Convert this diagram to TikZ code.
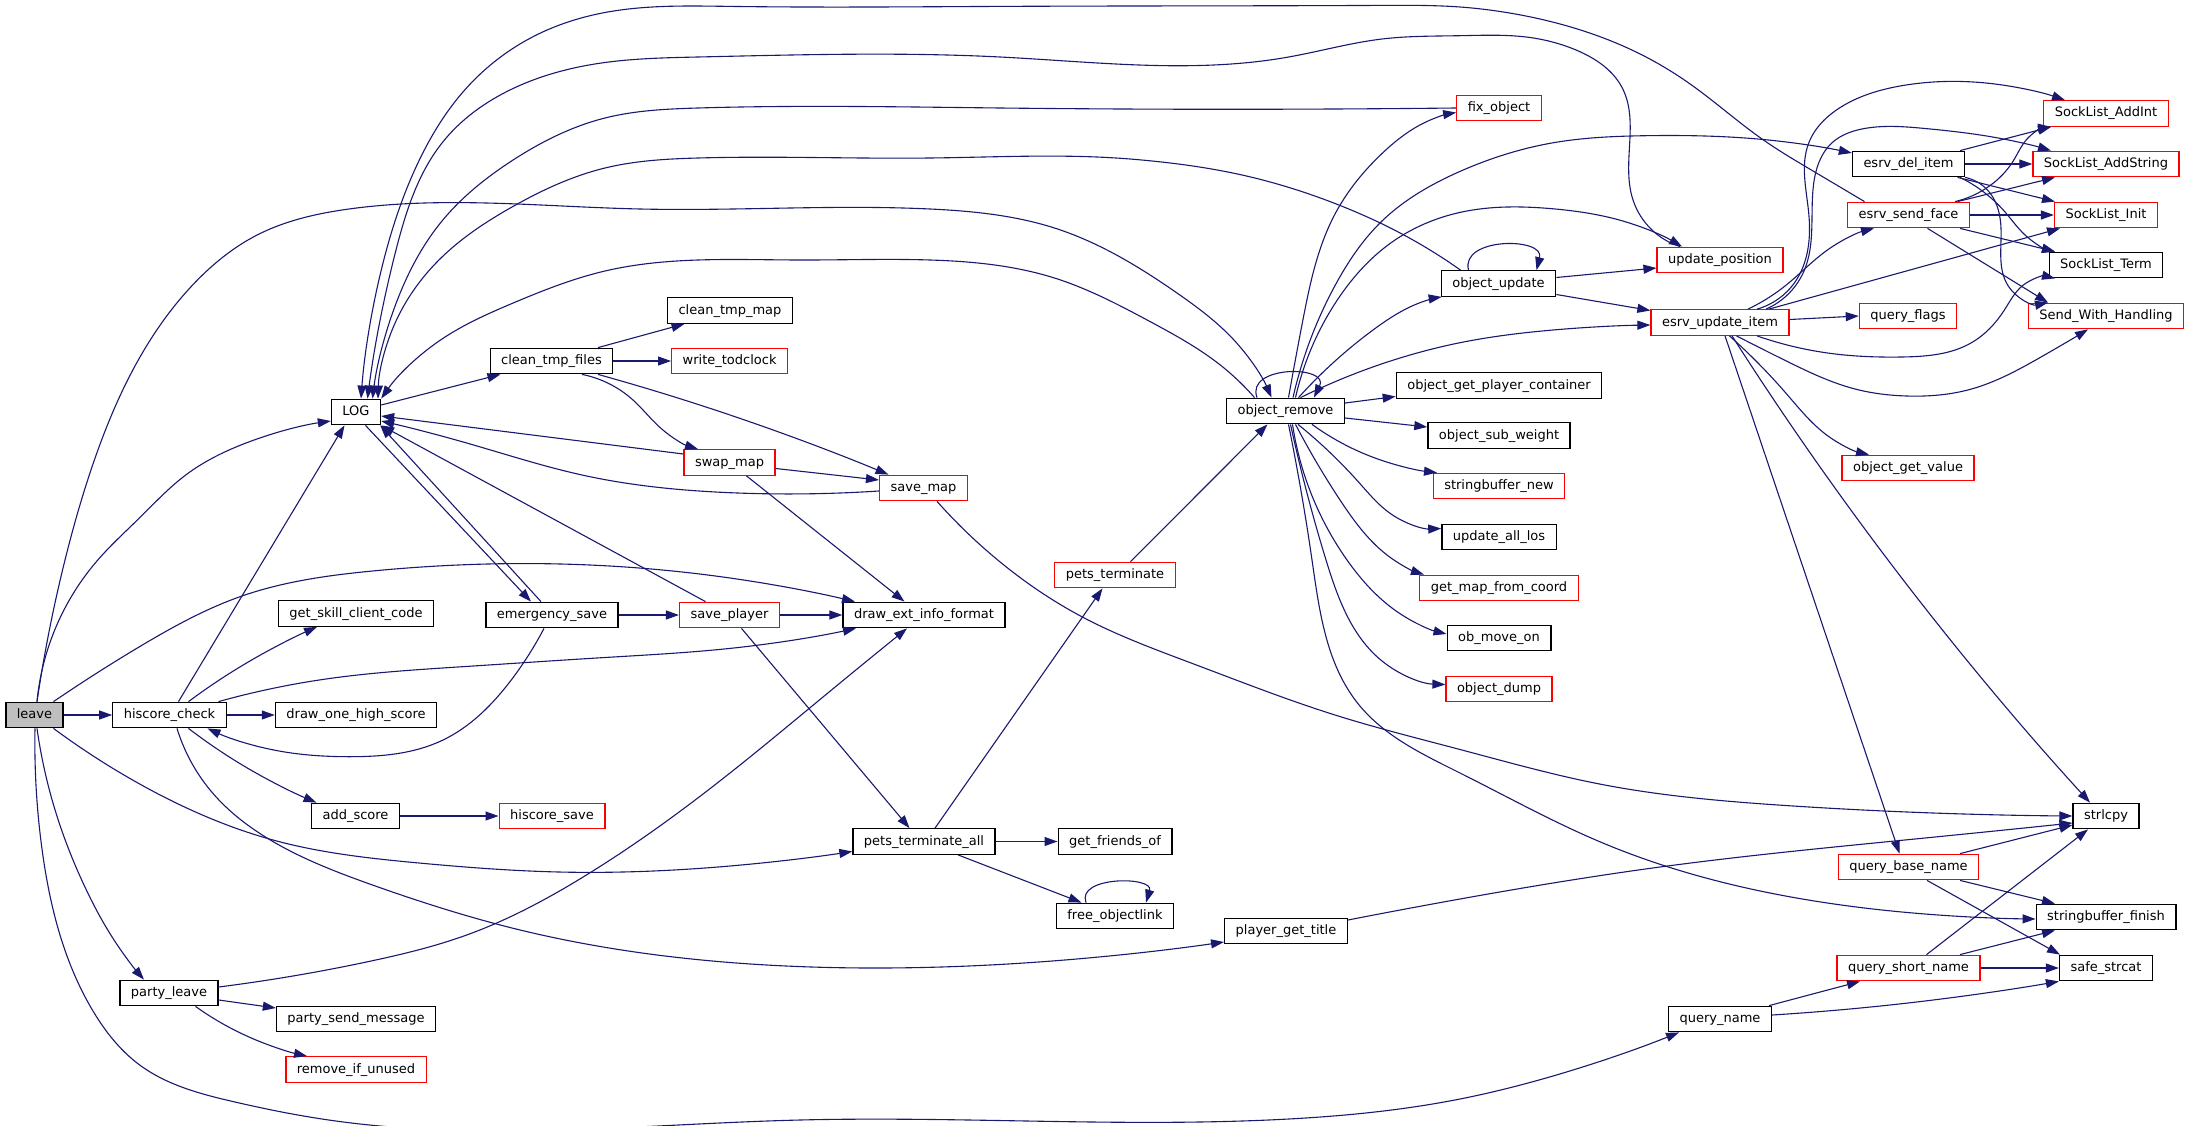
\documentclass[tikz,border=0pt]{standalone}
\usepackage{fontspec}
\newfontfamily\fnt{DejaVu Sans}
\usetikzlibrary{arrows.meta,hobby}
\definecolor{edgec}{HTML}{191970}
\definecolor{grayf}{HTML}{BFBFBF}
\tikzset{
  fn/.style={draw=black, fill=white, line width=1.3pt, rectangle, minimum height=25.5pt,
    inner xsep=11pt, inner ysep=0pt, font=\fnt\fontsize{13pt}{15pt}\selectfont,
    text height=9.6pt, text depth=2.6pt},
  fnr/.style={fn, draw=red},
  conn/.style={draw=edgec, line width=1.1pt, -{Triangle[length=13pt,width=9pt]}},
}
\begin{document}
\begin{tikzpicture}[x=1pt,y=-1pt]
\useasboundingbox (0,0) rectangle (2189,1126);
\fill[white] (0,0) rectangle (2189,1126);
% nodes
\node[fn,fill=grayf] (leave) at (34.5,715) {leave};
\node[fn] (hc) at (169.5,715) {hiscore\_check};
\node[fn] (pl) at (169,993) {party\_leave};
\node[fn] (LOG) at (356,412) {LOG};
\node[fn] (gscc) at (356,613.5) {get\_skill\_client\_code};
\node[fn] (dohs) at (356,715) {draw\_one\_high\_score};
\node[fn] (as) at (355.5,816) {add\_score};
\node[fn] (psm) at (356,1019) {party\_send\_message};
\node[fnr] (riu) at (356,1069.5) {remove\_if\_unused};
\node[fn] (ctf) at (551.5,361) {clean\_tmp\_files};
\node[fn] (es) at (552,615) {emergency\_save};
\node[fnr] (hs) at (552,816) {hiscore\_save};
\node[fn] (ctm) at (730,310.5) {clean\_tmp\_map};
\node[fnr] (wtc) at (729.6,361) {write\_todclock};
\node[fnr] (swm) at (729.5,462.5) {swap\_map};
\node[fnr] (sp) at (729.5,615) {save\_player};
\node[fnr] (smap) at (923.5,488) {save\_map};
\node[fn] (deif) at (924,615) {draw\_ext\_info\_format};
\node[fn] (pta) at (924,841.5) {pets\_terminate\_all};
\node[fnr] (pt) at (1115,575) {pets\_terminate};
\node[fn] (gfo) at (1115,841.5) {get\_friends\_of};
\node[fn] (fol) at (1115,916) {free\_objectlink};
\node[fn] (orm) at (1285.5,411) {object\_remove};
\node[fn] (pgt) at (1286,931) {player\_get\_title};
\node[fnr] (fo) at (1499,108) {fix\_object};
\node[fn] (ou) at (1498.5,283.5) {object\_update};
\node[fn] (ogpc) at (1499,385.5) {object\_get\_player\_container};
\node[fn] (osw) at (1499,435.5) {object\_sub\_weight};
\node[fnr] (sbn) at (1499,486) {stringbuffer\_new};
\node[fn] (ual) at (1499,537) {update\_all\_los};
\node[fnr] (gmfc) at (1499,588) {get\_map\_from\_coord};
\node[fn] (omo) at (1499,638) {ob\_move\_on};
\node[fnr] (od) at (1499,689) {object\_dump};
\node[fnr] (up) at (1720,260) {update\_position};
\node[fnr] (eui) at (1720,322.5) {esrv\_update\_item};
\node[fn] (qn) at (1720,1019) {query\_name};
\node[fn] (edi) at (1908.5,164) {esrv\_del\_item};
\node[fnr] (esf) at (1908.5,215) {esrv\_send\_face};
\node[fnr] (qf) at (1908,316) {query\_flags};
\node[fnr] (ogv) at (1908,468) {object\_get\_value};
\node[fnr] (qbn) at (1908.5,867) {query\_base\_name};
\node[fnr] (qsn) at (1908.5,968) {query\_short\_name};
\node[fnr] (sai) at (2106,113.5) {SockList\_AddInt};
\node[fnr] (sas) at (2106,164) {SockList\_AddString};
\node[fnr] (sli) at (2106,215) {SockList\_Init};
\node[fn] (slt) at (2106,265) {SockList\_Term};
\node[fnr] (swh) at (2106,316) {Send\_With\_Handling};
\node[fn] (strl) at (2106,816) {strlcpy};
\node[fn] (sbf) at (2106,917) {stringbuffer\_finish};
\node[fn] (sst) at (2106,968) {safe\_strcat};
% leave
\draw[conn] (leave.east) -- (hc.west);
\draw[conn] ([xshift=2.5pt]leave.north) to[curve through={(97.8,560) .. (139.7,517.7) .. (186,474.8) .. (246.8,442.7)}] ([yshift=-9pt]LOG.west);
\draw[conn] ([xshift=2.5pt]leave.north) to[curve through={(65,560) .. (93,464) .. (140,357) .. (195.5,282) .. (256,235.6) .. (349,209) .. (640,209) .. (930,209) .. (1056,228.5) .. (1177,293) .. (1233,339)}] ([xshift=-14pt]orm.north);
\draw[conn] ([xshift=19pt]leave.north) to[curve through={(139.7,646.6) .. (242,596) .. (372.5,571) .. (535,563.6) .. (730,578)}] ([xshift=-69pt]deif.north);
\draw[conn] ([xshift=19pt]leave.south) to[curve through={(139.7,784) .. (279,841.6) .. (419,863) .. (558.7,872) .. (730,866)}] ([yshift=-10pt]pta.west);
\draw[conn] ([xshift=2.5pt]leave.south) to[curve through={(56,813) .. (84,885) .. (116,943)}] ([xshift=-25pt]pl.north);
\draw[conn] ([xshift=0.5pt]leave.south) to[curve through={(42,849) .. (56,921) .. (93,1011) .. (139.7,1065) .. (232.8,1101.5) .. (326,1119.6) .. (800,1120) .. (1288.7,1119) .. (1460,1099) .. (1553,1076)}] ([xshift=-41pt]qn.south);
% hiscore_check
\draw[conn] ([xshift=9pt]hc.north) -- ([xshift=-11.5pt]LOG.south);
\draw[conn] ([xshift=19pt]hc.north) to[curve through={(256,657.5)}] ([xshift=-39pt]gscc.south);
\draw[conn] (hc.east) -- (dohs.west);
\draw[conn] ([xshift=19pt]hc.south) to[curve through={(256,773)}] ([xshift=-39pt]as.north);
\draw[conn] ([xshift=49pt]hc.north) to[curve through={(326,679) .. (465.6,666.5) .. (605,657.5) .. (730,648.4)}] ([xshift=-68pt]deif.south);
\draw[conn] ([xshift=7.5pt]hc.south) to[curve through={(214,794.6) .. (260.7,834) .. (372.5,885) .. (512,928) .. (730,962.5) .. (869.7,968) .. (1056,960.7)}] ([yshift=-11pt]pgt.west);
% emergency_save
\draw[conn] ([xshift=-8pt]es.south) to[curve through={(512,679) .. (442,740.5) .. (349,756.7) .. (279,751)}] ([xshift=38pt]hc.south);
\draw[conn] ([xshift=-11pt]es.north) -- ([xshift=-1pt]LOG.south east);
\draw[conn] (es.east) -- (sp.west);
% LOG
\draw[conn] ([yshift=7pt]LOG.east) -- ([xshift=-51pt]ctf.south);
\draw[conn] ([xshift=9.5pt]LOG.south) -- ([xshift=-21pt]es.north);
% clean_tmp_files
\draw[conn] ([xshift=46.5pt]ctf.north) -- ([xshift=-45.5pt]ctm.south);
\draw[conn] (ctf.east) -- (wtc.west);
\draw[conn] ([xshift=30.5pt]ctf.south) to[curve through={(633,400) .. (661,428.4)}] ([xshift=-31.5pt]swm.north);
\draw[conn] ([xshift=46.5pt]ctf.south) to[curve through={(730,415)}] ([xshift=-35pt]smap.north);
% swap_map
\draw[conn] ([yshift=8.5pt]swm.west) -- ([yshift=-4pt]LOG.east);
\draw[conn] ([yshift=-6pt]swm.east) -- ([yshift=8pt]smap.west);
\draw[conn] ([xshift=17pt]swm.south) -- ([xshift=-19.5pt]deif.north);
% save_map
\draw[conn] ([yshift=-3pt]smap.west) to[curve through={(730,492.7) .. (582,475) .. (465.6,442.7)}] ([yshift=-9pt]LOG.east);
\draw[conn] ([xshift=13.5pt]smap.south) to[curve through={(997.7,560) .. (1083.9,617.8) .. (1195.6,664.7) .. (1335,715) .. (1460,749.5) .. (1599.5,784) .. (1785.5,805.5) .. (1925,812.7)}] (strl.west);
% save_player
\draw[conn] ([xshift=-24pt]sp.north) -- (LOG.south east);
\draw[conn] (sp.east) -- (deif.west);
\draw[conn] ([xshift=12pt]sp.south) -- ([xshift=-14.5pt]pta.north);
% add_score
\draw[conn] (as.east) -- (hs.west);
% party_leave
\draw[conn] ([yshift=6pt]pl.east) to[curve through={(372.5,960.7) .. (465.6,935.4) .. (582,877.7) .. (730,773) .. (823,697)}] ([xshift=-17pt]deif.south);
\draw[conn] ([yshift=-7pt]pl.east) -- ([yshift=11pt]psm.west);
\draw[conn] ([xshift=26.5pt]pl.south) to[curve through={(256,1040)}] ([xshift=-49pt]riu.north);
% pets
\draw[conn] ([xshift=11pt]pta.north) -- ([xshift=-12.5pt]pt.south);
\draw[conn] (pta.east) -- (gfo.west);
\draw[conn] ([xshift=34pt]pta.south) -- ([xshift=-33.5pt]fol.north);
\draw[conn] ([xshift=-29pt]fol.north) .. controls (1076,876) and (1154,876) .. ([xshift=31pt]fol.north);
\draw[conn] ([xshift=15.5pt]pt.north) -- ([xshift=-18pt]orm.south);
% player_get_title
\draw[conn] ([yshift=11pt]pgt.east) to[curve through={(1460,899) .. (1660,867) .. (1925,838)}] ([yshift=-7pt]strl.west);
% query_name
\draw[conn] ([xshift=49pt]qn.north) -- ([xshift=-48.5pt]qsn.south);
\draw[conn] ([yshift=4pt]qn.east) to[curve through={(1925,1001)}] (sst.south west);
% query_short_name
\draw[conn] ([xshift=18pt]qsn.north) -- ([xshift=-18pt]strl.south);
\draw[conn] ([xshift=51.5pt]qsn.north) -- ([xshift=-51pt]sbf.south);
\draw[conn] (qsn.east) -- (sst.west);
% query_base_name
\draw[conn] ([xshift=51.5pt]qbn.north) -- ([yshift=-9pt]strl.west);
\draw[conn] ([xshift=51.5pt]qbn.south) -- ([xshift=-51pt]sbf.north);
\draw[conn] ([xshift=18.5pt]qbn.south) -- ([xshift=-46pt]sst.north);
% object_remove
\draw[conn] ([xshift=-28.5pt]orm.north) .. controls (1245,365) and (1330,365) .. ([xshift=28.5pt]orm.north);
\draw[conn] ([xshift=-31pt]orm.north) to[curve through={(1219,364) .. (1149,321) .. (1056,278.5) .. (930,260) .. (800,260) .. (698,260) .. (605,271) .. (512,303.5) .. (442,339)}] (LOG.north east);
\draw[conn] ([xshift=3pt]orm.north) to[curve through={(1302.7,321) .. (1335,214) .. (1382,153.5) .. (1428,121)}] ([yshift=-4.5pt]fo.west);
\draw[conn] ([xshift=7.5pt]orm.north) to[curve through={(1335,285.6) .. (1382,221) .. (1460,171.4) .. (1553,142.8) .. (1646,135.7) .. (1757.6,139)}] ([yshift=11pt]edi.west);
\draw[conn] ([xshift=10pt]orm.north) to[curve through={(1335,303.5) .. (1391,242.8) .. (1460,212.4) .. (1553,208.8) .. (1622.8,221)}] ([xshift=-38pt]up.north);
\draw[conn] ([xshift=13pt]orm.north) to[curve through={(1373,330) .. (1428,300)}] ([xshift=1pt]ou.south west);
\draw[conn] ([xshift=15pt]orm.north) to[curve through={(1400,358) .. (1460,342.7) .. (1553,330)}] ([yshift=-2.5pt]eui.west);
\draw[conn] ([yshift=8pt]orm.east) -- ([yshift=-11pt]ogpc.west);
\draw[conn] ([yshift=-7pt]orm.east) -- ([yshift=8.5pt]osw.west);
\draw[conn] ([xshift=26.5pt]orm.south) to[curve through={(1382,460.5)}] ([xshift=-62pt]sbn.north);
\draw[conn] ([xshift=12.5pt]orm.south) to[curve through={(1358.5,482) .. (1391,514)}] ([yshift=8.5pt]ual.west);
\draw[conn] ([xshift=10pt]orm.south) to[curve through={(1340,500) .. (1391,558)}] ([xshift=-75pt]gmfc.north);
\draw[conn] ([xshift=7pt]orm.south) to[curve through={(1347,560) .. (1400.5,614)}] ([yshift=4pt]omo.west);
\draw[conn] ([xshift=5pt]orm.south) to[curve through={(1326,560) .. (1382,661)}] ([yshift=4.5pt]od.west);
\draw[conn] ([xshift=3pt]orm.south) to[curve through={(1312,560) .. (1358.6,704.4) .. (1460,773) .. (1599.5,841.6) .. (1785.5,896) .. (1925,914)}] ([yshift=-2pt]sbf.west);
% object_update
\draw[conn] ([xshift=-30pt]ou.north) .. controls (1460,237) and (1545,237) .. ([xshift=38pt]ou.north);
\draw[conn] ([xshift=-38pt]ou.north) to[curve through={(1405,235.6) .. (1335,203.5) .. (1242,175) .. (1149,160.7) .. (1116,158) .. (930,158) .. (698,158) .. (605,168) .. (512,207) .. (442,257) .. (396,321)}] ([xshift=22pt]LOG.north);
\draw[conn] ([yshift=6pt]ou.east) -- ([yshift=-8pt]up.west);
\draw[conn] ([yshift=-11pt]ou.east) -- ([yshift=12pt]eui.west);
% fix_object
\draw[conn] (fo.west) to[curve through={(1000,108) .. (698,108) .. (605,118) .. (512,160.7) .. (442,221) .. (396,303.5)}] ([xshift=16.5pt]LOG.north);
% update_position
\draw[conn] ([xshift=-40pt]up.north) to[curve through={(1633,200) .. (1629.7,142.8) .. (1622.8,89) .. (1576,50) .. (1530,37.5) .. (1460,35.7) .. (1382,39) .. (1288.7,57) .. (1000,57) .. (698,57) .. (605,62.5) .. (512,89) .. (442,143) .. (396,250)}] ([xshift=11.5pt]LOG.north);
% esrv_send_face -> LOG
\draw[conn] ([xshift=-44pt]esf.north) to[curve through={(1813,171) .. (1762,139) .. (1692.5,85.7) .. (1646,57) .. (1576,28.6) .. (1506.5,12.5) .. (1460,7) .. (1382,5.4) .. (1000,6.4) .. (730,6.4) .. (605,12.5) .. (535,35.7) .. (465.6,89) .. (419,160.7) .. (381.8,267.8)}] ([xshift=5pt]LOG.north);
% esrv_update_item
\draw[conn] ([xshift=28pt]eui.north) to[curve through={(1785.5,285.6) .. (1827.4,250)}] ([xshift=-34.5pt]esf.south);
\draw[conn] ([xshift=37pt]eui.north) to[curve through={(1795,282) .. (1808.8,214) .. (1808.8,142.8) .. (1841,107) .. (1901.8,85.7) .. (1994.8,84)}] ([xshift=-41pt]sai.north);
\draw[conn] ([xshift=46pt]eui.north) to[curve through={(1804,271) .. (1813.4,185.6) .. (1832,142.8) .. (1864.5,128.5) .. (1925,128.5) .. (1994.8,137.4)}] ([xshift=-55pt]sas.north);
\draw[conn] ([xshift=49pt]eui.north) -- ([xshift=-46pt]sli.south);
\draw[conn] ([xshift=37pt]eui.south) to[curve through={(1832,353.6) .. (1901.8,357) .. (1971.5,342.7) .. (2004,310.6) .. (2022.6,285.6)}] ([xshift=-51pt]slt.south);
\draw[conn] ([xshift=16.5pt]eui.south) to[curve through={(1785.5,360.6) .. (1855,389) .. (1906.4,396) .. (1971.5,389) .. (2041,357)}] ([xshift=-18pt]swh.south);
\draw[conn] ([yshift=3pt]eui.east) -- (qf.west);
\draw[conn] ([xshift=9.5pt]eui.south) to[curve through={(1785.5,392.7) .. (1827.4,435.6)}] ([xshift=-39pt]ogv.north);
\draw[conn] ([xshift=12pt]eui.south) to[curve through={(1888,560)}] ([xshift=-16pt]strl.north);
\draw[conn] ([xshift=5pt]eui.south) -- ([xshift=-9pt]qbn.north);
% esrv_del_item
\draw[conn] ([xshift=51.5pt]edi.north) -- ([xshift=-55pt]sai.south);
\draw[conn] (edi.east) -- (sas.west);
\draw[conn] ([xshift=49pt]edi.south) -- ([xshift=-51pt]sli.north);
\draw[conn] ([xshift=51.5pt]edi.south) to[curve through={(2005,212) .. (2025,235)}] ([xshift=-51pt]slt.north);
\draw[conn] (edi.south east) to[curve through={(1990,193) .. (2001,228.5) .. (2008,285.6)}] ([xshift=-58pt]swh.north);
% esrv_send_face
\draw[conn] ([xshift=46.5pt]esf.north) to[curve through={(1990,185.6) .. (2013.4,160.7) .. (2027,139)}] ([xshift=-55pt]sai.south);
\draw[conn] ([xshift=49pt]esf.north) -- ([xshift=-51pt]sas.south);
\draw[conn] (esf.east) -- (sli.west);
\draw[conn] ([xshift=51.5pt]esf.south) -- ([xshift=-51pt]slt.north);
\draw[conn] ([xshift=19pt]esf.south) -- ([xshift=-58pt]swh.north);
\end{tikzpicture}
\end{document}
